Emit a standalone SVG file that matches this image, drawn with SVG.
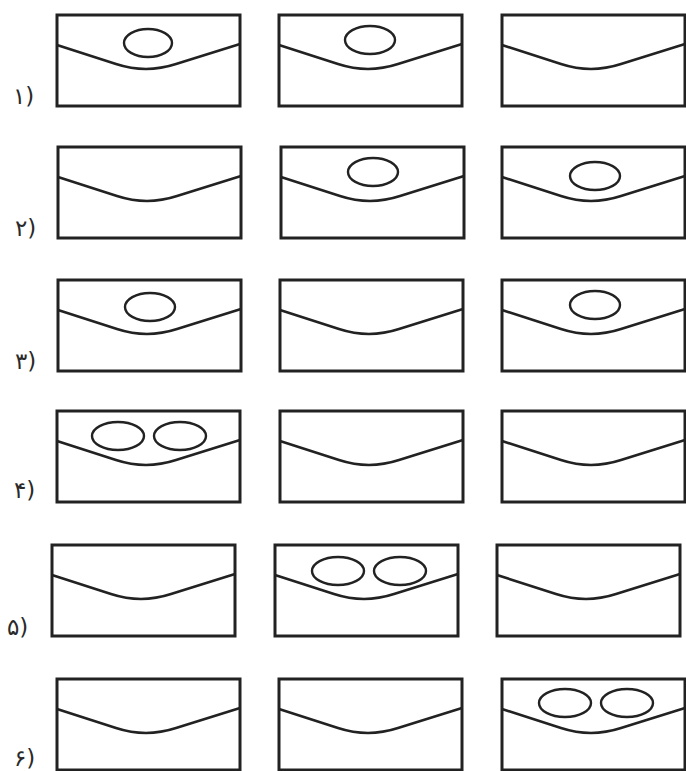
<svg xmlns="http://www.w3.org/2000/svg" xmlns:xlink="http://www.w3.org/1999/xlink" width="686" height="771" viewBox="0 0 686 771">
<style>
.box{fill:none;stroke:#222;stroke-width:3}
.flap{fill:none;stroke:#222;stroke-width:2.6;stroke-linejoin:round}
.oval{fill:none;stroke:#222;stroke-width:2.4}
.lbl{font-family:"DejaVu Sans",sans-serif;font-size:23px;fill:#2a2a2a}
</style>
<defs>
<g id="env">
<rect class="box" x="0" y="0" width="183" height="91"/>
<path class="flap" d="M0,30 L59,49.1 Q89,58.9 119,49.1 L183,29"/>
</g>
</defs>
<rect width="686" height="771" fill="#fff"/>
<g id="row1">
<text class="lbl" x="13" y="104">۱)</text>
<g id="r1c1"><use xlink:href="#env" transform="translate(57,15)"/><ellipse class="oval" cx="148" cy="43" rx="24" ry="14"/></g>
<g id="r1c2"><use xlink:href="#env" transform="translate(279,15)"/><ellipse class="oval" cx="370" cy="40" rx="25" ry="14"/></g>
<g id="r1c3"><use xlink:href="#env" transform="translate(502,15)"/></g>
</g>
<g id="row2">
<text class="lbl" x="15" y="236">۲)</text>
<g id="r2c1"><use xlink:href="#env" transform="translate(58,147)"/></g>
<g id="r2c2"><use xlink:href="#env" transform="translate(281,147)"/><ellipse class="oval" cx="373" cy="172" rx="25" ry="14"/></g>
<g id="r2c3"><use xlink:href="#env" transform="translate(502,147)"/><ellipse class="oval" cx="595" cy="176" rx="25" ry="14"/></g>
</g>
<g id="row3">
<text class="lbl" x="15" y="369">۳)</text>
<g id="r3c1"><use xlink:href="#env" transform="translate(58,280)"/><ellipse class="oval" cx="150" cy="307" rx="25" ry="14"/></g>
<g id="r3c2"><use xlink:href="#env" transform="translate(280,280)"/></g>
<g id="r3c3"><use xlink:href="#env" transform="translate(502,280)"/><ellipse class="oval" cx="595" cy="305" rx="25" ry="14"/></g>
</g>
<g id="row4">
<text class="lbl" x="14" y="498">۴)</text>
<g id="r4c1"><use xlink:href="#env" transform="translate(57,411)"/><ellipse class="oval" cx="118" cy="436" rx="26" ry="14"/><ellipse class="oval" cx="180" cy="436" rx="26" ry="14"/></g>
<g id="r4c2"><use xlink:href="#env" transform="translate(280,411)"/></g>
<g id="r4c3"><use xlink:href="#env" transform="translate(502,411)"/></g>
</g>
<g id="row5">
<text class="lbl" x="7" y="635">۵)</text>
<g id="r5c1"><use xlink:href="#env" transform="translate(52,545)"/></g>
<g id="r5c2"><use xlink:href="#env" transform="translate(275,545)"/><ellipse class="oval" cx="338" cy="571" rx="26" ry="14"/><ellipse class="oval" cx="400" cy="571" rx="26" ry="14"/></g>
<g id="r5c3"><use xlink:href="#env" transform="translate(497,545)"/></g>
</g>
<g id="row6">
<text class="lbl" x="14" y="766">۶)</text>
<g id="r6c1"><use xlink:href="#env" transform="translate(57,679)"/></g>
<g id="r6c2"><use xlink:href="#env" transform="translate(279,679)"/></g>
<g id="r6c3"><use xlink:href="#env" transform="translate(502,679)"/><ellipse class="oval" cx="565" cy="703" rx="26" ry="14"/><ellipse class="oval" cx="627" cy="703" rx="26" ry="14"/></g>
</g>
<g id="connectors"/>
</svg>
